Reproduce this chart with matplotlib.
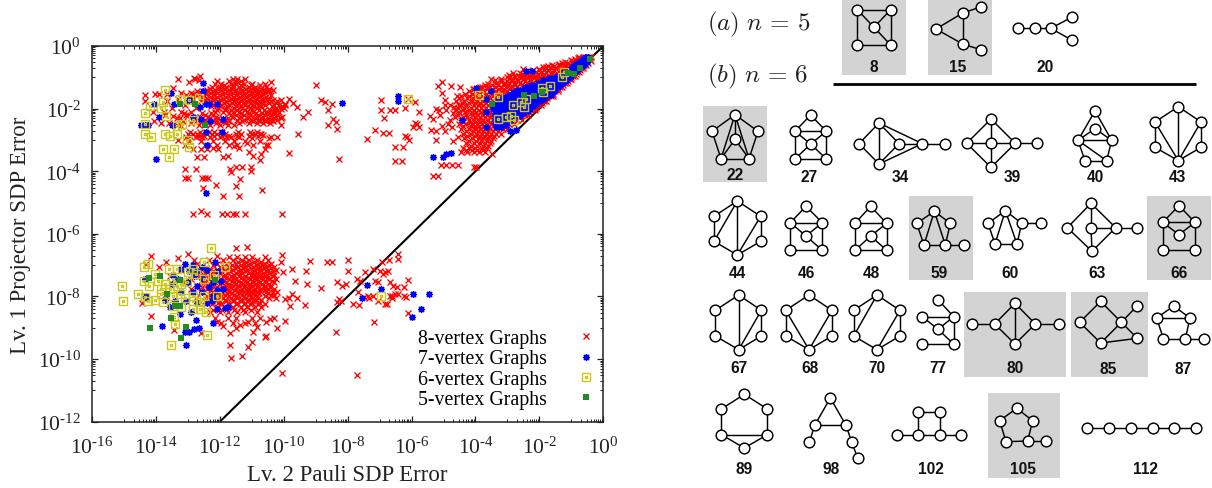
import matplotlib
matplotlib.use('Agg')
import matplotlib.pyplot as plt
from matplotlib.path import Path
from matplotlib.patches import Rectangle

plt.rcParams['font.family'] = ['Liberation Serif', 'DejaVu Serif']
plt.rcParams['mathtext.fontset'] = 'custom'
plt.rcParams['mathtext.rm'] = 'Liberation Serif'
plt.rcParams['mathtext.it'] = 'Liberation Serif:italic'
plt.rcParams['mathtext.bf'] = 'Liberation Serif:bold'

# ---------- scatter data: (log10 x, log10 y) ----------
RED_TL_SPARSE = [(-14.34,-1.56),(-14.35,-1.75),(-14.03,-1.52),(-13.9,-1.53),(-13.65,-1.53),(-13.45,-1.34),(-13.3,-1.05),
 (-12.98,-1.16),(-12.8,-1.03),(-12.62,-0.95),(-12.78,-1.06),(-12.65,-1.1),(-14.05,-2.4),(-13.85,-2.45),(-13.6,-2.45),
 (-13.75,-2.1),(-13.45,-2.25),(-13.25,-2.3),(-13.05,-2.2),(-13.2,-2.55),(-13.3,-3.0),(-13.1,-3.15),(-12.95,-3.02),
 (-12.85,-3.3),(-12.6,-3.3),(-12.4,-3.3),(-12.7,-3.55),(-12.5,-3.55),(-12.2,-3.25),(-12.05,-3.3),(-11.9,-3.55),(-11.75,-3.5),
 (-11.55,-3.2),(-11.4,-3.25),(-11.1,-3.4),(-10.95,-3.5),(-10.7,-3.45),(-10.75,-3.65),(-10.6,-3.3),(-10.5,-3.15),
 (-10.65,-2.85),(-10.45,-2.95),(-10.2,-2.9),(-11.0,-2.95),(-11.15,-3.1),(-9.84,-3.41),(-9.55,-2.81),(-9.24,-2.12),(-9.4,-2.26),
 (-9.6,-1.96),(-9.71,-1.83),(-9.95,-1.85),(-10.1,-1.72),(-10.25,-1.82),(-9.85,-1.68),(-10.3,-2.05),(-10.1,-2.0),
 (-8.98,-1.24),(-8.82,-1.74),(-8.6,-2.06),(-8.6,-2.52),(-8.7,-1.78),(-8.5,-1.85),(-8.47,-2.33),(-8.35,-2.42),(-8.33,-2.65),
 (-8.26,-3.62),(-10.4,-1.15),(-10.45,-1.45),(-10.4,-1.55)]
RED_TL_LOW = [(-13.09,-3.93),(-12.73,-3.93),(-13.09,-4.22),(-12.99,-4.22),(-12.57,-4.22),(-12.36,-4.22),(-12.13,-4.44),
 (-12.52,-4.53),(-11.48,-4.46),(-11.38,-4.24),(-11.9,-4.78),(-11.41,-4.78),(-10.68,-4.59),(-12.83,-5.38),(-12.59,-5.27),
 (-12.39,-5.38),(-11.92,-5.38),(-11.79,-5.38),(-11.58,-5.38),(-11.48,-5.38),(-11.22,-5.38),(-10.07,-5.38),(-11.69,-3.93),
 (-11.64,-4.03),(-11.48,-3.88),(-11.32,-3.88),(-11.01,-3.88),(-11.01,-3.98),(-12.47,-4.22)]
RED_TL_ROWS = [(-1.05,[-11.6,-11.45,-11.2]),(-1.12,[-11.7,-11.5,-11.35,-12.1]),(-1.2,[-12.15,-11.95,-11.65,-11.5,-11.25,-10.98,-10.6]),
 (-1.3,[-12.25,-12.0,-11.8,-11.6,-11.4,-11.1,-10.9,-10.55]),(-1.4,[-12.4,-12.15,-11.95,-11.7,-11.5,-11.3,-11.05,-10.85,-10.62,-10.35]),
 (-1.5,[-13.2,-12.9,-12.6,-12.3,-12.1,-11.85,-11.6,-11.4,-11.2,-11.0,-10.8,-10.6]),
 (-1.58,[-13.05,-12.75,-12.5,-12.2,-12.0,-11.75,-11.5,-11.3,-11.1,-10.9,-10.7]),
 (-1.68,[-13.3,-12.85,-12.4,-12.15,-11.9,-11.65,-11.45,-11.25,-11.05,-10.85,-10.65,-10.45]),
 (-1.77,[-13.65,-12.6,-12.3,-12.05,-11.8,-11.55,-11.35,-11.15,-10.95,-10.75,-10.4,-10.2]),
 (-1.88,[-13.1,-12.2,-11.95,-11.7,-11.45,-11.2,-11.0,-10.8,-10.6,-10.3,-10.15,-9.95]),
 (-1.98,[-13.5,-12.75,-12.05,-11.8,-11.55,-11.3,-11.05,-10.85,-10.25,-10.0]),
 (-2.1,[-14.1,-13.2,-12.9,-12.15,-11.9,-11.6,-11.4,-11.15,-10.95,-10.55,-10.35,-10.15]),
 (-2.2,[-13.7,-13.0,-12.45,-12.2,-11.5,-11.25,-11.05,-10.8,-10.6,-10.4,-10.2]),
 (-2.3,[-13.35,-12.8,-12.3,-12.05,-11.75,-11.4,-11.15,-10.9,-10.7,-10.5,-10.3,-10.1]),
 (-2.4,[-13.15,-12.55,-12.2,-11.95,-11.7,-11.3,-10.95,-10.75,-10.55,-10.35]),
 (-2.52,[-13.35,-12.65,-12.3,-12.0,-11.75,-11.55,-10.1]),
 (-2.8,[-13.0,-12.85,-12.7,-12.55,-12.4,-12.25,-12.1,-11.85,-11.5,-11.35,-11.0,-10.9,-10.75,-10.7]),
 (-2.92,[-13.05,-12.75,-12.55,-12.3,-12.0,-11.8,-11.65,-11.4,-10.4]),
 (-3.05,[-12.6,-12.2,-11.85,-11.55,-11.2,-10.75]),(-3.15,[-12.45,-12.1,-11.7,-11.45,-10.95,-10.55])]
RED_TL_EXTRA = [(-1.24,[-11.87,-11.58,-11.33,-11.03,-10.73]),(-1.36,[-12.31,-12.06,-11.83,-11.62,-11.37,-11.17,-10.94,-10.71,-10.47]),
 (-1.45,[-12.72,-12.47,-12.22,-11.78,-11.52,-11.26,-11.12,-10.92,-10.73,-10.52]),
 (-1.54,[-12.83,-12.42,-12.17,-11.93,-11.67,-11.47,-11.23,-11.04,-10.83,-10.65]),
 (-1.63,[-12.56,-12.27,-12.08,-11.82,-11.57,-11.36,-11.17,-10.97,-10.78,-10.56]),
 (-1.72,[-12.47,-12.22,-11.97,-11.72,-11.51,-11.31,-11.08,-10.89,-10.69,-10.51,-10.33]),
 (-1.83,[-12.37,-12.12,-11.86,-11.63,-11.41,-11.26,-11.06,-10.87,-10.68,-10.46]),
 (-1.93,[-12.27,-12.0,-11.76,-11.5,-11.33,-11.12,-10.92,-10.71,-10.38,-10.07]),
 (-2.04,[-12.1,-11.85,-11.65,-11.47,-11.22,-11.0,-10.78,-10.62,-10.43,-10.2]),
 (-2.15,[-13.12,-12.55,-12.27,-11.71,-11.55,-11.33,-11.1,-10.87,-10.67,-10.46,-10.28]),
 (-2.26,[-12.62,-12.37,-12.13,-11.62,-11.34,-11.08,-10.84,-10.65,-10.44,-10.24,-10.05]),
 (-2.36,[-12.72,-12.47,-12.13,-11.85,-11.46,-11.23,-11.02,-10.81,-10.61,-10.42,-10.2]),
 (-2.46,[-12.9,-12.45,-12.12,-11.83,-11.4,-11.1,-10.85,-10.64,-10.42]),
 (-2.74,[-12.93,-12.62,-12.33,-12.17,-11.97,-11.43,-11.05,-10.83]),
 (-2.86,[-12.92,-12.64,-12.48,-12.18,-11.92,-11.72,-11.46,-11.1,-10.8])]
RED_LL_SPARSE = [(-14.14,-6.72),(-14.3,-6.95),(-13.67,-6.89),(-13.32,-6.77),(-12.99,-6.65),(-12.8,-6.83),(-12.1,-6.72),(-14.45,-8.22),
 (-14.14,-8.62),(-13.44,-9.06),(-12.6,-9.18),(-11.48,-6.44),(-11.14,-6.42),(-10.07,-6.68),(-10.09,-6.89),(-9.19,-6.86),(-8.65,-6.89),
 (-10.02,-7.23),(-9.73,-7.11),(-9.31,-7.18),(-9.66,-7.5),(-9.27,-7.59),(-8.84,-7.74),(-9.75,-7.93),(-9.95,-8.09),(-9.6,-8.06),
 (-9.35,-8.26),(-10.21,-9.02),(-9.97,-8.78),(-10.29,-8.69),(-10.42,-8.72),(-10.54,-8.83),(-10.54,-9.26),(-10.99,-9.47),(-11.11,-9.61),
 (-11.64,-9.98),(-11.32,-9.89),(-11.68,-9.55),(-10.07,-10.44),(-11.69,-9.18),(-11.48,-9.02),(-11.38,-8.91),(-10.96,-9.15),(-10.85,-8.96),
 (-11.12,-8.83),(-10.6,-9.3),(-11.9,-8.95),(-12.1,-8.8),(-9.85,-8.05),(-9.8,-8.3),(-8.5,-6.91),(-8.0,-6.83),(-7.98,-7.2),(-8.34,-7.53),(-8.19,-7.66),
 (-8.05,-7.61),(-8.34,-8.19),(-8.26,-8.09),(-8.38,-9.12),(-7.72,-7.45),(-7.62,-7.5),(-7.46,-7.23),(-7.2,-7.11),(-6.99,-7.18),(-6.94,-6.91),
 (-6.7,-6.83),(-6.42,-6.65),(-6.42,-6.79),(-6.83,-7.23),(-6.9,-7.29),(-6.74,-7.18),(-7.15,-7.5),(-7.04,-7.53),(-6.68,-7.55),(-6.57,-7.66),
 (-6.47,-7.7),(-6.1,-7.47),(-6.24,-7.71),(-7.67,-7.87),(-7.5,-8.03),(-7.32,-8.06),(-7.06,-8.14),(-7.2,-7.98),(-7.84,-8.24),(-7.64,-8.28),
 (-6.83,-8.24),(-6.76,-8.24),(-6.62,-7.98),(-6.52,-7.93),(-6.42,-7.93),(-6.24,-7.98),(-6.18,-8.03),(-6.12,-8.53),(-7.18,-8.83),(-7.72,-10.5),
 (-7.35,-8.0),(-6.68,-8.0),(-6.6,-8.05),(-8.2,-8.15)]
RED_LL_ROWS = [(-6.75,[-11.7,-11.45,-11.2,-11.0,-10.6]),(-6.85,[-12.35,-11.9,-11.6,-11.3,-11.1,-10.85,-10.5]),
 (-6.95,[-12.7,-12.1,-11.8,-11.5,-11.25,-11.05,-10.8,-10.6,-10.4]),(-7.05,[-13.9,-12.55,-12.0,-11.7,-11.45,-11.2,-10.95,-10.75,-10.55,-10.3]),
 (-7.15,[-13.2,-12.3,-12.1,-11.85,-11.6,-11.35,-11.15,-10.9,-10.7,-10.5,-10.25]),
 (-7.25,[-12.8,-12.45,-12.0,-11.75,-11.5,-11.3,-11.1,-10.85,-10.65,-10.45]),
 (-7.35,[-13.55,-12.65,-12.25,-11.9,-11.65,-11.4,-11.2,-11.0,-10.8,-10.6,-10.35]),
 (-7.45,[-12.9,-12.35,-11.95,-11.7,-11.5,-11.25,-11.05,-10.85,-10.65,-10.45,-10.25]),
 (-7.55,[-13.1,-12.5,-12.15,-11.8,-11.55,-11.35,-11.15,-10.95,-10.75,-10.55,-10.3]),
 (-7.65,[-12.7,-12.2,-11.85,-11.6,-11.4,-11.2,-11.0,-10.8,-10.6,-10.4]),
 (-7.75,[-12.9,-12.4,-12.05,-11.8,-11.5,-11.3,-11.1,-10.9,-10.7,-10.5,-10.3]),
 (-7.85,[-12.6,-12.2,-11.95,-11.7,-11.45,-11.25,-11.05,-10.85,-10.55,-10.35,-10.2]),
 (-7.95,[-13.7,-12.3,-12.05,-11.85,-11.55,-11.3,-11.1,-10.9,-10.4,-10.3]),
 (-8.05,[-12.75,-12.15,-11.9,-11.65,-11.45,-11.2,-11.0,-10.8,-10.45,-10.25]),
 (-8.15,[-12.45,-12.0,-11.8,-11.6,-11.35,-11.15,-10.95]),
 (-8.25,[-12.25,-11.95,-11.7,-11.5,-11.25,-11.05,-10.8,-10.6]),
 (-8.35,[-12.1,-11.85,-11.6,-11.35,-11.15,-10.9,-10.7]),
 (-8.5,[-12.3,-12.0,-11.75,-11.45,-11.2,-10.85]),(-8.68,[-12.15,-11.75,-11.5,-11.0,-10.75]),(-8.85,[-11.95,-11.6,-11.2,-10.9])]
RED_LL_EXTRA = [(-6.9,[-11.42,-11.17,-10.93,-10.7]),(-7.0,[-12.2,-11.63,-11.33,-11.12,-10.87,-10.67,-10.45]),
 (-7.1,[-12.43,-11.92,-11.53,-11.28,-11.03,-10.82,-10.62,-10.4]),(-7.2,[-12.62,-12.2,-11.67,-11.42,-11.22,-10.97,-10.77,-10.57,-10.35]),
 (-7.3,[-12.32,-11.83,-11.57,-11.37,-11.02,-10.93,-10.72,-10.52,-10.3]),(-7.4,[-12.5,-12.1,-11.8,-11.58,-11.33,-11.12,-10.92,-10.72,-10.52]),
 (-7.5,[-12.6,-12.25,-11.87,-11.63,-11.42,-11.2,-11.0,-10.8,-10.6,-10.38]),(-7.6,[-12.37,-12.0,-11.72,-11.48,-11.27,-11.07,-10.87,-10.67,-10.47]),
 (-7.7,[-12.55,-12.1,-11.9,-11.67,-11.45,-11.25,-11.05,-10.85,-10.63,-10.43]),(-7.8,[-12.27,-12.0,-11.73,-11.56,-11.38,-11.17,-10.97,-10.77,-10.6]),
 (-7.9,[-12.13,-11.77,-11.62,-11.37,-11.17,-10.97,-10.78,-10.48]),(-8.0,[-12.4,-11.97,-11.72,-11.5,-11.23,-11.03,-10.84,-10.58]),
 (-8.1,[-12.25,-11.85,-11.56,-11.3,-11.08,-10.88,-10.7]),(-8.2,[-12.07,-11.75,-11.45,-11.2,-10.98,-10.75]),(-8.42,[-12.2,-11.92,-11.55,-11.28,-11.02])]
RED_MID = [(-6.97,-1.72),(-6.97,-2.04),(-6.68,-2.04),(-6.52,-2.04),(-6.21,-1.99),(-5.9,-1.8),(-6.85,-2.3),(-7.15,-2.69),(-6.89,-2.77),(-6.7,-2.77),
 (-7.41,-2.97),(-6.21,-2.86),(-6.08,-2.99),(-6.15,-2.92),(-6.52,-3.22),(-6.26,-3.22),(-6.52,-3.66),(-6.29,-3.66),(-5.84,-2.5),(-5.95,-2.6),
 (-5.76,-2.6),(-5.9,-2.45),(-5.76,-2.12),(-5.43,-2.22),(-5.22,-2.01),(-5.32,-2.32),(-5.22,-2.7),(-5.4,-2.67),(-4.96,-2.7),(-4.72,-2.6),(-5.22,-3.0),
 (-4.7,-3.05),(-5.17,-1.29),(-5.06,-1.16),(-5.06,-1.51),(-4.78,-1.29),(-4.49,-1.32),(-4.57,-1.59),(-4.96,-1.74),(-4.96,-1.9),(-4.91,-2.06),
 (-5.15,-2.05),(-4.68,-1.96),(-4.44,-1.9),(-4.65,-2.28),(-6.1,-1.68),(-5.09,-3.79),(-4.91,-3.79),(-4.75,-3.79),(-4.54,-3.79),(-5.32,-4.15),(-5.17,-4.15),
 (-3.97,-3.85),(-4.05,-3.85),(-3.48,-3.46),(-4.8,-2.35),(-5.1,-2.2),(-4.85,-2.5),(-5.05,-2.55),(-4.55,-2.9),(-4.7,-2.15)]
RED_BAND_TOP = [(-3.4,-1.1),(-3.2,-1.05),(-3.0,-0.98),(-2.82,-0.85),(-2.6,-0.85),(-2.4,-0.8),(-2.2,-0.78),(-2.0,-0.72),(-1.8,-0.66),(-1.6,-0.62),
 (-1.4,-0.56),(-1.2,-0.52),(-1.0,-0.46),(-0.8,-0.38),(-4.07,-1.37),(-3.85,-1.3),(-3.6,-1.2),(-3.5,-1.05),(-2.95,-0.92),(-2.5,-0.75),(-1.9,-0.68)]
RED_BAND_ROWS = [(-0.35,[-0.75,-0.62,-0.45,-0.38]),(-0.47,[-0.95,-0.85,-0.5,-0.4]),(-0.6,[-1.4,-1.2,-1.05,-0.95,-0.6,-0.55]),
 (-0.7,[-1.8,-1.65,-1.5,-1.3,-1.2,-0.7,-0.65]),(-0.82,[-2.1,-1.95,-1.8,-1.6,-1.4,-1.25,-0.82,-0.75]),
 (-0.95,[-2.8,-2.65,-2.5,-2.3,-2.1,-1.9,-1.7,-1.5,-0.95,-0.9]),(-1.05,[-2.85,-2.7,-2.5,-2.3,-2.1,-2.0,-1.05,-1.0]),
 (-1.18,[-3.35,-3.1,-2.95,-2.8,-2.6,-2.4,-2.2,-1.2,-1.15]),(-1.3,[-3.8,-3.6,-3.4,-3.2,-3.05,-2.9,-2.7,-2.5,-1.35,-1.28]),
 (-1.45,[-4.2,-3.95,-3.75,-3.55,-3.35,-3.15,-3.0,-2.85,-1.5,-1.42]),(-1.6,[-4.45,-4.2,-4.0,-3.8,-3.6,-3.45,-3.25,-3.1,-1.65,-1.58]),
 (-1.75,[-4.6,-4.35,-4.1,-3.95,-3.75,-3.6,-3.45,-1.85,-1.78]),(-1.9,[-4.8,-4.5,-4.3,-4.05,-3.9,-3.75,-3.6,-2.05,-1.95]),
 (-2.05,[-4.65,-4.4,-4.2,-4.05,-3.9,-3.75,-3.6,-2.25,-2.15]),(-2.2,[-4.55,-4.3,-4.1,-3.95,-3.8,-3.65,-3.5,-2.45,-2.35]),
 (-2.35,[-4.45,-4.2,-4.05,-3.9,-3.75,-3.6,-3.45,-2.7,-2.55]),(-2.5,[-4.5,-4.3,-4.1,-3.95,-3.8,-3.65,-3.5,-2.95,-2.8]),
 (-2.65,[-4.45,-4.2,-4.0,-3.85,-3.7,-3.55,-3.4,-3.15,-3.0]),(-2.8,[-4.4,-4.15,-3.95,-3.8,-3.65,-3.5,-3.35,-3.2]),
 (-2.95,[-4.35,-4.1,-3.9,-3.75,-3.6,-3.45]),(-3.1,[-4.3,-4.05,-3.85,-3.7,-3.55]),(-3.25,[-4.4,-4.2,-4.0,-3.8,-3.65]),
 (-3.4,[-4.45,-4.25,-4.05,-3.9,-3.7])]
RED_BAND_EXTRA = [(-0.41,[-0.88,-0.72,-0.42]),(-0.53,[-1.3,-1.12,-0.98,-0.84,-0.48]),(-0.65,[-1.72,-1.55,-1.36,-1.16,-0.62]),
 (-0.76,[-2.02,-1.87,-1.72,-1.53,-1.34,-0.74]),(-0.88,[-2.55,-2.38,-2.2,-2.03,-1.85,-1.65,-1.47,-0.85]),
 (-1.0,[-2.93,-2.75,-2.58,-2.4,-2.2,-2.02,-1.82,-1.0]),(-1.12,[-3.2,-3.02,-2.87,-2.66,-2.45,-2.27,-1.12]),
 (-1.24,[-3.7,-3.48,-3.28,-3.12,-2.97,-2.77,-2.55,-1.26]),(-1.37,[-4.05,-3.85,-3.65,-3.47,-3.27,-3.1,-2.93,-2.75,-1.42]),
 (-1.52,[-4.32,-4.1,-3.88,-3.68,-3.47,-3.3,-3.18,-1.58]),(-1.67,[-4.52,-4.28,-4.08,-3.9,-3.72,-3.55,-3.38,-1.75]),
 (-1.82,[-4.42,-4.2,-4.0,-3.85,-3.68,-3.52,-1.92]),(-1.97,[-4.55,-4.35,-4.13,-3.97,-3.82,-3.68,-3.52,-2.12]),
 (-2.12,[-4.5,-4.32,-4.12,-3.98,-3.83,-3.68,-3.53,-2.32]),(-2.27,[-4.4,-4.25,-4.0,-3.85,-3.7,-3.55,-2.6]),
 (-2.42,[-4.38,-4.18,-4.02,-3.87,-3.72,-3.55,-2.85]),(-2.57,[-4.38,-4.15,-4.03,-3.88,-3.72,-3.58,-3.05]),
 (-2.72,[-4.3,-4.08,-3.92,-3.77,-3.62,-3.45,-3.28]),(-2.87,[-4.25,-4.02,-3.87,-3.72,-3.58,-3.42]),
 (-3.02,[-4.2,-3.98,-3.82,-3.65,-3.5]),(-3.18,[-4.15,-3.95,-3.78,-3.62]),(-3.33,[-4.3,-4.12,-3.95,-3.75])]
BLUE_SPARSE = [(-12.54,-1.18),(-12.52,-1.45),(-13.53,-1.51),(-14.05,-1.84),(-13.42,-1.84),(-12.97,-1.73),(-12.63,-1.94),(-12.44,-1.84),(-12.33,-1.84),
 (-12.09,-1.84),(-13.91,-2.28),(-13.5,-2.52),(-14.48,-2.51),(-14.34,-2.51),(-14.24,-2.51),(-12.85,-2.28),(-12.59,-2.33),(-12.31,-2.38),(-11.9,-2.33),
 (-12.44,-2.76),(-11.93,-2.74),(-12.39,-3.17),(-14.01,-3.6),(-12.44,-4.69),(-8.19,-1.81),(-6.43,-1.61),(-6.43,-1.76),(-4.43,-2.35),(-5.34,-3.56),
 (-5.01,-3.56),(-4.91,-3.45),(-4.78,-3.43),(-3.97,-1.35),(-3.51,-1.43),(-3.66,-1.69),(-3.68,-2.12),(-3.66,-2.6),(-2.91,-2.71),(-2.72,-2.69),(-2.41,-0.81),
 (-2.24,-0.81),(-7.39,-7.63),(-7.54,-8.04),(-6.96,-7.77),(-5.97,-7.93),(-5.46,-7.93),(-5.69,-8.39),(-6.0,-8.66),
 (-13.1,-6.95),(-12.85,-7.0),(-12.55,-7.05),(-12.15,-6.9),(-13.2,-7.12),(-12.95,-7.2),(-12.7,-7.2),(-12.4,-7.15),(-12.05,-7.2),(-13.45,-7.3),(-12.8,-7.35),
 (-12.55,-7.4),(-12.2,-7.55),(-11.95,-7.5),(-13.0,-7.55),(-12.7,-7.65),(-12.35,-7.7),(-12.1,-7.8),(-11.9,-7.75),(-13.2,-7.85),(-12.85,-7.85),(-12.55,-7.85),
 (-12.2,-8.0),(-13.7,-8.1),(-14.3,-8.05),(-13.4,-8.15),(-13.05,-8.15),(-12.7,-8.2),(-12.4,-8.2),(-12.25,-8.15),(-12.1,-8.4),(-13.55,-8.35),(-13.25,-8.55),
 (-12.9,-8.5),(-12.75,-8.75),(-12.2,-8.85),(-13.8,-8.95),(-13.1,-9.12),(-12.95,-9.12),(-12.8,-9.05),(-12.65,-9.0),(-13.06,-9.55),(-13.5,-7.6),(-13.3,-7.45),
 (-11.85,-8.38),(-11.75,-8.35),(-14.35,-7.45),(-14.3,-8.0)]
BLUE_BAND_ROWS = [(-0.35,[-0.58,-0.48]),(-0.5,[-0.75,-0.62,-0.5]),(-0.65,[-0.95,-0.8,-0.66]),(-0.8,[-1.1,-0.98,-0.86]),
 (-0.95,[-1.45,-1.3,-1.15,-1.0]),(-1.1,[-1.9,-1.75,-1.6,-1.45,-1.3,-1.15]),(-1.25,[-2.25,-2.1,-1.95,-1.8,-1.65,-1.5,-1.35]),
 (-1.4,[-2.7,-2.55,-2.4,-2.25,-2.1,-1.95,-1.8,-1.65,-1.5]),(-1.55,[-2.95,-2.8,-2.65,-2.5,-2.35,-2.2,-2.05,-1.9,-1.75,-1.65]),
 (-1.7,[-3.2,-3.05,-2.9,-2.75,-2.6,-2.45,-2.3,-2.15,-2.0,-1.9]),(-1.85,[-3.45,-3.3,-3.15,-3.0,-2.85,-2.7,-2.55,-2.4,-2.25,-2.1]),
 (-2.0,[-3.45,-3.3,-3.15,-3.0,-2.85,-2.7,-2.55,-2.4,-2.3]),(-2.15,[-3.4,-3.25,-3.1,-2.95,-2.8,-2.65,-2.5]),
 (-2.3,[-3.4,-3.25,-3.1,-2.95,-2.8]),(-2.45,[-3.4,-3.25,-3.1,-3.0]),(-2.6,[-3.35,-3.2])]
BLUE_BAND_EXTRA = [(-0.43,[-0.65,-0.53]),(-0.57,[-0.85,-0.7,-0.57]),(-0.72,[-1.03,-0.88,-0.75]),(-0.87,[-1.3,-1.15,-1.03,-0.92]),
 (-1.02,[-1.7,-1.55,-1.4,-1.23,-1.08]),(-1.17,[-2.05,-1.87,-1.72,-1.57,-1.42,-1.25]),(-1.32,[-2.45,-2.3,-2.15,-2.02,-1.87,-1.72,-1.57,-1.42]),
 (-1.47,[-2.82,-2.67,-2.47,-2.32,-2.17,-2.02,-1.87,-1.72,-1.58]),(-1.62,[-3.07,-2.92,-2.72,-2.57,-2.42,-2.27,-2.12,-1.97,-1.82]),
 (-1.77,[-3.32,-3.12,-2.97,-2.82,-2.67,-2.52,-2.37,-2.22,-2.07,-1.97]),(-1.92,[-3.37,-3.22,-3.07,-2.92,-2.77,-2.62,-2.47,-2.32,-2.2]),
 (-2.07,[-3.37,-3.22,-3.07,-2.92,-2.77,-2.62,-2.47,-2.37]),(-2.22,[-3.32,-3.17,-3.02,-2.87,-2.72,-2.6]),
 (-2.37,[-3.32,-3.17,-3.02,-2.9]),(-2.52,[-3.3,-3.15,-3.05])]
YELLOW_PTS = [(-13.72,-1.4),(-13.77,-1.8),(-13.83,-1.97),(-14.2,-1.93),(-14.34,-2.15),(-13.67,-2.24),(-14.34,-2.48),(-14.35,-2.81),(-14.15,-2.91),
 (-13.7,-2.82),(-13.56,-2.87),(-13.35,-2.8),(-13.33,-2.54),(-13.17,-2.5),(-12.85,-2.37),(-13.04,-2.99),(-12.96,-3.22),(-13.42,-3.3),(-13.77,-3.29),
 (-13.59,-3.56),(-13.25,-1.69),(-12.96,-1.74),(-12.65,-1.66),(-6.1,-1.68),(-3.88,-1.56),(-3.29,-1.64),(-3.29,-2.34),(-3.05,-2.27),(-2.89,-2.24),
 (-2.8,-2.35),(-2.82,-1.9),(-2.57,-1.79),(-2.42,-1.68),(-2.48,-1.96),(-1.92,-1.33),(-1.89,-1.48),(-1.68,-1.28),(-1.28,-1.0),(-1.23,-0.83),
 (-12.28,-6.45),(-14.26,-6.95),(-14.36,-7.07),(-15.05,-7.67),(-15.04,-8.14),(-14.57,-7.93),(-14.34,-8.03),(-14.26,-8.13),(-14.02,-8.12),(-13.79,-8.19),
 (-14.38,-7.52),(-14.21,-7.66),(-14.02,-7.27),(-13.94,-7.52),(-13.83,-7.77),(-13.83,-7.93),(-13.7,-7.61),(-13.58,-7.13),(-13.33,-7.11),(-13.48,-7.45),
 (-13.56,-7.77),(-13.35,-7.66),(-13.2,-7.61),(-13.04,-7.53),(-12.99,-7.23),(-12.85,-7.11),(-12.73,-7.29),(-12.5,-6.91),(-12.18,-7.32),(-12.5,-7.45),
 (-11.84,-7.07),(-12.1,-8.0),(-12.5,-7.98),(-12.83,-7.98),(-13.09,-8.06),(-13.46,-8.0),(-13.25,-7.93),(-13.46,-8.3),(-13.2,-8.35),(-12.85,-8.4),
 (-12.63,-8.4),(-12.44,-8.51),(-12.63,-8.19),(-12.83,-8.14),(-13.43,-8.64),(-13.41,-8.88),(-12.4,-9.23),(-13.53,-9.55),(-6.95,-7.98)]
GREEN_PTS = [(-13.25,-1.84),(-12.78,-1.84),(-12.47,-2.52),(-3.49,-1.84),(-2.49,-1.56),(-2.18,-1.6),(-1.91,-1.46),(-1.09,-0.86),(-0.93,-0.89),(-0.74,-0.7),
 (-0.43,-0.41),(-14.22,-7.41),(-13.88,-7.35),(-13.25,-7.47),(-12.16,-7.48),(-13.64,-7.93),(-13.39,-8.3),(-13.25,-8.3),(-13.53,-8.69),(-14.19,-9.0),
 (-13.06,-8.99),(-13.22,-9.33)]
DIAGONAL = [1e-12, 1.0]
X_EXPONENTS = [-16, -14, -12, -10, -8, -6, -4, -2, 0]
Y_EXPONENTS = [-12, -10, -8, -6, -4, -2, 0]
LEGEND_LABELS = ['8-vertex Graphs', '7-vertex Graphs', '6-vertex Graphs', '5-vertex Graphs']

# ---------- graph gallery: coordinates on a 3x grid of each row's origin ----------
ROW_Y0 = {'a': 0, 'b': 190, 'c': 285, 'd': 385}
GRAPHS = [
 ('a', '8', (552,203), (456,-3,192,231), [(502,32),(602,32),(552,85),(502,138),(602,138)], [(0,1),(0,3),(3,4),(1,4),(0,2),(1,2),(2,4)]),
 ('a', '15', (804,203), (714,-3,192,231), [(738,90),(818,42),(818,135),(872,24),(872,152)], [(0,1),(0,2),(1,2),(1,3),(2,4)]),
 ('a', '20', (1064,203), None, [(984,88),(1034,88),(1082,88),(1147,54),(1147,124)], [(0,1),(1,2),(2,3),(2,4)]),
 ('a', '22', (135,525), (39,321,192,227), [(135,347),(66,397),(204,397),(135,421),(93,479),(177,479)], [(0,1),(0,2),(1,4),(2,5),(0,4),(0,5),(0,3),(3,4),(3,5),(4,5)]),
 ('a', '27', (358,533), None, [(362,348),(315,397),(409,397),(362,435),(315,480),(409,480)], [(0,1),(0,2),(1,2),(1,4),(2,5),(4,5),(1,3),(2,3),(4,3),(5,3)]),
 ('a', '34', (630,533), None, [(567,372),(507,434),(567,495),(627,434),(697,434),(764,434)], [(0,1),(1,2),(0,2),(0,3),(0,4),(2,3),(2,4),(3,4),(4,5)]),
 ('a', '39', (968,533), None, [(903,360),(830,433),(903,433),(976,433),(903,505),(1041,433)], [(0,1),(0,3),(0,2),(2,4),(1,2),(2,3),(1,4),(3,4),(3,5)]),
 ('a', '40', (1215,533), None, [(1215,336),(1215,389),(1164,424),(1265,424),(1185,485),(1250,485)], [(0,2),(0,3),(1,2),(1,3),(2,3),(2,4),(3,5),(4,5),(2,5)]),
 ('a', '43', (1462,533), None, [(1465,323),(1395,369),(1533,369),(1395,445),(1533,445),(1465,485)], [(0,1),(0,2),(0,5),(1,3),(2,4),(3,5),(4,5),(1,5),(2,5)]),
 ('b', '44', (142,250), None, [(142,36),(72,82),(212,82),(72,157),(212,157),(142,198)], [(0,1),(0,2),(0,5),(1,3),(2,4),(3,5),(4,5),(3,0),(2,5)]),
 ('b', '46', (350,250), None, [(348,52),(301,101),(397,101),(348,141),(301,184),(397,184)], [(0,1),(0,2),(1,2),(1,4),(2,5),(4,5),(1,3),(2,3),(3,5)]),
 ('b', '48', (545,250), None, [(542,52),(495,103),(590,103),(542,141),(495,184),(590,184)], [(0,1),(0,2),(1,2),(1,4),(2,5),(4,5),(2,3),(3,4),(3,5)]),
 ('b', '59', (748,250), (657,21,192,251), [(733,67),(680,103),(781,103),(702,168),(766,168),(822,168)], [(0,1),(0,2),(1,3),(2,4),(0,3),(0,4),(3,4),(4,5)]),
 ('b', '60', (960,250), None, [(946,65),(894,103),(995,103),(915,165),(981,165),(1053,103)], [(0,1),(0,2),(1,3),(2,4),(0,3),(0,4),(3,4),(2,5)]),
 ('b', '63', (1222,250), None, [(1203,43),(1132,116),(1203,116),(1277,116),(1206,187),(1342,116)], [(0,1),(0,3),(0,2),(2,4),(2,3),(1,4),(3,4),(3,5)]),
 ('b', '66', (1467,250), (1371,21,192,251), [(1467,50),(1418,100),(1515,100),(1467,137),(1418,183),(1515,183)], [(0,1),(0,2),(1,2),(1,4),(2,5),(4,5),(1,3),(2,3)]),
 ('c', '67', (146,250), None, [(146,33),(76,79),(214,79),(76,156),(214,156),(146,197)], [(0,1),(0,2),(0,5),(1,3),(2,4),(3,5),(4,5),(2,5)]),
 ('c', '68', (360,250), None, [(357,33),(287,79),(426,79),(287,156),(426,156),(357,197)], [(0,1),(0,2),(1,3),(2,4),(3,5),(4,5),(1,5),(2,5)]),
 ('c', '70', (562,250), None, [(561,33),(491,79),(630,79),(491,156),(630,156),(561,197)], [(0,1),(0,2),(1,3),(2,4),(3,5),(4,5),(3,0),(2,5)]),
 ('c', '77', (744,250), None, [(744,47),(791,98),(697,98),(744,136),(697,180),(791,180)], [(0,1),(2,1),(2,3),(1,3),(3,5),(1,5),(4,5)]),
 ('c', '80', (975,250), (822,24,306,255), [(845,120),(914,120),(975,58),(1036,120),(975,180),(1106,120)], [(0,1),(1,2),(2,3),(1,4),(3,4),(2,4),(3,5)]),
 ('c', '85', (1253,255), (1143,24,231,255), [(1232,52),(1169,115),(1294,115),(1232,177),(1342,65),(1342,163)], [(0,1),(0,2),(1,3),(3,2),(2,4),(2,5),(3,5)]),
 ('c', '87', (1478,255), None, [(1451,66),(1400,102),(1500,102),(1420,164),(1486,164),(1542,164)], [(0,1),(0,2),(1,2),(1,3),(2,4),(3,4),(4,5)]),
 ('d', '89', (163,253), None, [(163,31),(94,75),(232,75),(94,152),(232,152),(163,192)], [(0,1),(0,2),(1,3),(2,4),(3,4),(3,5),(4,5)]),
 ('d', '98', (424,253), None, [(421,42),(374,124),(468,124),(358,175),(485,174),(503,222)], [(0,1),(0,2),(1,2),(1,3),(2,4),(4,5)]),
 ('d', '102', (724,253), None, [(620,153),(685,153),(750,153),(814,153),(685,85),(750,85)], [(0,1),(1,2),(2,3),(1,4),(4,5),(5,2)]),
 ('d', '105', (998,253), (894,27,216,254), [(980,73),(929,110),(1028,110),(948,173),(1013,171),(1069,171)], [(0,1),(0,2),(1,3),(2,4),(3,4),(4,5)]),
 ('d', '112', (1368,253), None, [(1191,132),(1258,132),(1323,132),(1388,132),(1453,132),(1518,132)], [(0,1),(1,2),(2,3),(3,4),(4,5)]),
]


def expand(rows):
    return [(x, y) for y, xs in rows for x in xs]


def xy(points):
    return [10.0 ** p[0] for p in points], [10.0 ** p[1] for p in points]


def power_label(e):
    return r'$\mathregular{10^{0}}$' if e == 0 else r'$\mathregular{10^{\text{-}%d}}$' % abs(e)


W, H = 1212, 489
fig = plt.figure(figsize=(W / 100, H / 100), dpi=100)
ax = fig.add_axes([92 / W, 1 - 422.7 / H, 511.3 / W, 375.7 / H])
ax.set_xscale('log')
ax.set_yscale('log')
ax.set_xlim(1e-16, 1)
ax.set_ylim(1e-12, 1)

ax.plot(DIAGONAL, DIAGONAL, color='black', lw=1.5, zorder=1, solid_capstyle='butt')

inner = Path.unit_rectangle().vertices.copy()
outer_sq = Path((inner - 0.5) * 1.0)
dot_sq = Path((inner - 0.5) * 0.22)
SQUARE_DOT = Path.make_compound_path(outer_sq, dot_sq)

red = (RED_TL_SPARSE + RED_TL_LOW + expand(RED_TL_ROWS) + expand(RED_TL_EXTRA) + RED_LL_SPARSE + expand(RED_LL_ROWS)
       + expand(RED_LL_EXTRA) + RED_MID + RED_BAND_TOP + expand(RED_BAND_ROWS) + expand(RED_BAND_EXTRA))
blue = BLUE_SPARSE + expand(BLUE_BAND_ROWS) + expand(BLUE_BAND_EXTRA)
kw = dict(ls='none', clip_on=True)
ax.plot(*xy(red), marker='x', ms=4.8, mew=0.95, color='#ff0000', zorder=2, label=LEGEND_LABELS[0], **kw)
ax.plot(*xy(blue), marker=(8, 2, 0), ms=5.0, mew=0.95, color='#0000ff', zorder=3, label=LEGEND_LABELS[1], **kw)
ax.plot(*xy(YELLOW_PTS), marker=SQUARE_DOT, ms=5.4, mew=1.0, mfc='none', color='#c8c81e', zorder=4, label=LEGEND_LABELS[2], **kw)
ax.plot(*xy(GREEN_PTS), marker='s', ms=4.4, mew=0, color='#228b22', zorder=5, label=LEGEND_LABELS[3], **kw)

ax.set_xticks([10.0 ** e for e in X_EXPONENTS])
ax.set_xticklabels([power_label(e) for e in X_EXPONENTS], fontsize=15.5)
ax.set_yticks([10.0 ** e for e in Y_EXPONENTS])
ax.set_yticklabels([power_label(e) for e in Y_EXPONENTS], fontsize=15.5)
xmin = [m * 10.0 ** k for k in range(-15, 0, 2) for m in range(1, 10)]
ymin = [m * 10.0 ** k for k in range(-11, 0, 2) for m in range(1, 10)]
ax.set_xticks([v for v in xmin if v < 1], minor=True)
ax.set_yticks([v for v in ymin if v < 1], minor=True)
ax.set_xticklabels([], minor=True)
ax.set_yticklabels([], minor=True)
ax.tick_params(which='major', direction='in', top=True, right=True, length=4.2, width=0.9, colors='#222222')
ax.tick_params(axis='x', which='major', pad=10.5)
ax.tick_params(axis='y', which='major', pad=8)
ax.tick_params(which='minor', direction='in', top=True, right=True, length=2.2, width=0.7, colors='#222222')
for s in ax.spines.values():
    s.set_linewidth(1.1)
    s.set_color('#222222')
ax.set_xlabel('Lv. 2 Pauli SDP Error', fontsize=16.5, labelpad=5, color='#222222')
ax.set_ylabel('Lv. 1 Projector SDP Error', fontsize=16.5, labelpad=5, color='#222222')
ax.legend(loc='lower right', bbox_to_anchor=(1.014, 0.012), frameon=False, markerfirst=False, fontsize=14.3,
          labelspacing=0.07, handlelength=1.7, handletextpad=1.1, borderpad=0, borderaxespad=0.4, numpoints=1)

ov = fig.add_axes([0, 0, 1, 1], zorder=-1)
ov.set_xlim(0, W)
ov.set_ylim(H, 0)
ov.axis('off')
ov.patch.set_alpha(0)
X0 = 690


def gx(v):
    return X0 + v / 3


for row, name, lab, box, nodes, edges in GRAPHS:
    y0 = ROW_Y0[row]
    if box:
        ov.add_patch(Rectangle((gx(box[0]), y0 + box[1] / 3), box[2] / 3, box[3] / 3, fc='#d3d3d3', ec='none', zorder=1))
    for a, b in edges:
        ov.plot([gx(nodes[a][0]), gx(nodes[b][0])], [y0 + nodes[a][1] / 3, y0 + nodes[b][1] / 3], color='black', lw=1.05, zorder=2)
    ov.plot([gx(n[0]) for n in nodes], [y0 + n[1] / 3 for n in nodes], ls='none', marker='o', ms=7.7, mew=1.05, mfc='white', mec='black', zorder=3)
    ov.text(gx(lab[0]), y0 + lab[1] / 3, name, ha='center', va='center', fontsize=11.2, fontweight='bold',
            family='Liberation Sans', color='#111111', zorder=4)
ov.plot([833, 1196], [85, 85], color='black', lw=2.0, solid_capstyle='butt', zorder=2)
ov.text(gx(50), 24, r'$(a)\ n\, =\, 5$', fontsize=18, math_fontfamily='cm', ha='left', va='center', color='#222222')
ov.text(gx(50), 76, r'$(b)\ n\, =\, 6$', fontsize=18, math_fontfamily='cm', ha='left', va='center', color='#222222')

fig.savefig('out.png', dpi=100)
